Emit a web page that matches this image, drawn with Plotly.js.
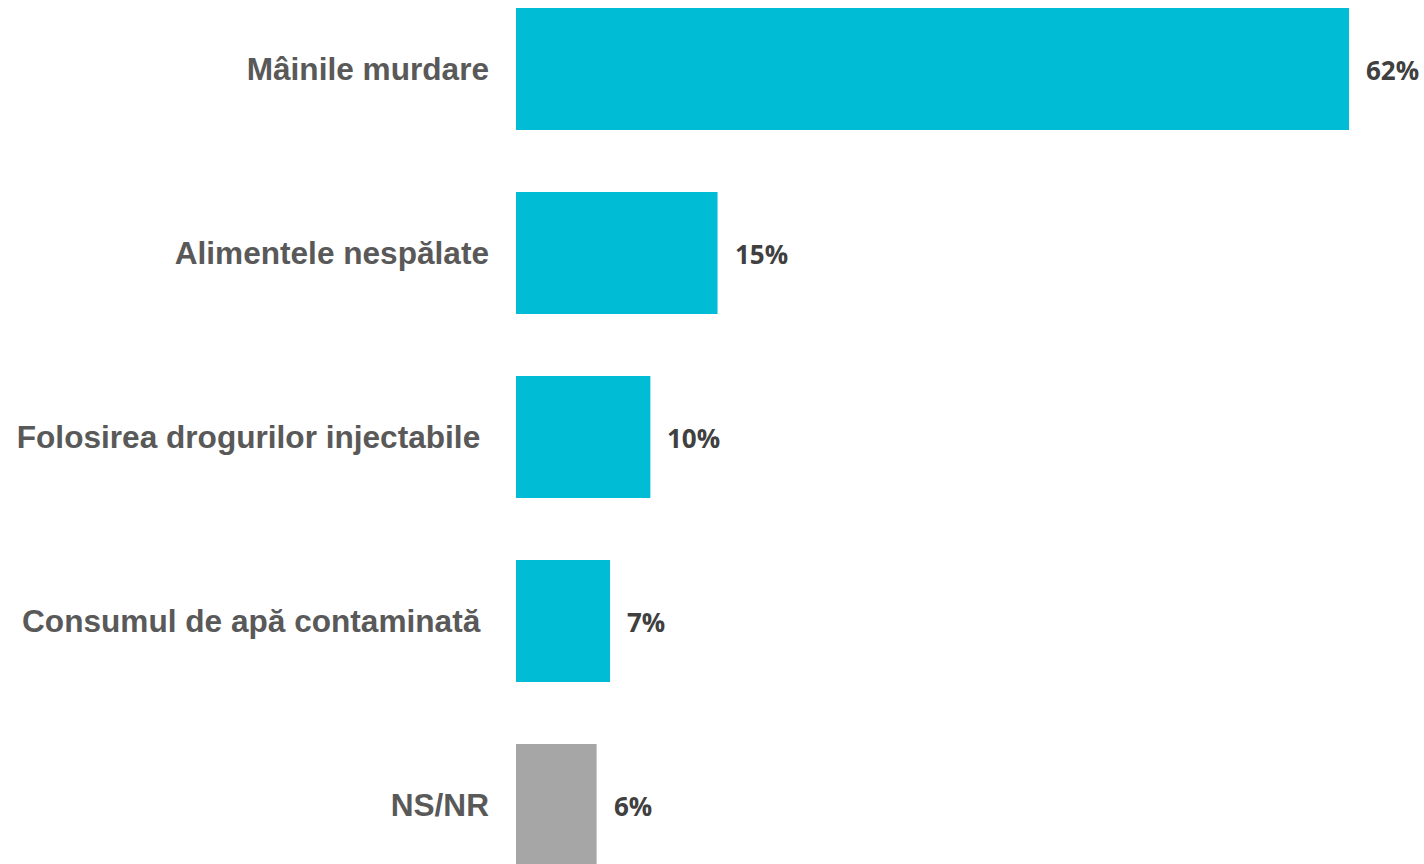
<!DOCTYPE html>
<html>
<head>
<meta charset="utf-8">
<script src="https://cdn.plot.ly/plotly-3.0.1.min.js"></script>
<style>html,body{margin:0;padding:0;background:#fff;}#chart{width:1424px;height:864px;}</style>
</head>
<body>
<div id="chart"></div>
<script>
const categories = ["Mâinile murdare", "Alimentele nespălate", "Folosirea drogurilor injectabile\u00a0", "Consumul de apă contaminată\u00a0", "NS/NR"];
const values = [62, 15, 10, 7, 6];
const valueLabels = ["62%", "15%", "10%", "7%", "6%"];
const barColors = ["#00BCD5", "#00BCD5", "#00BCD5", "#00BCD5", "#A6A6A6"];

const trace = {
  type: "bar",
  orientation: "h",
  y: categories,
  x: values,
  width: 0.663,
  marker: {color: barColors, line: {width: 0}},
  hoverinfo: "skip"
};

const annotations = values.map((v, i) => ({
  x: v, y: categories[i], xref: "x", yref: "y",
  text: valueLabels[i], showarrow: false,
  xanchor: "left", yanchor: "middle", xshift: 15, yshift: -1,
  font: {family: "Open Sans", size: 26, color: "#404040", weight: 700}
}));

const layout = {
  width: 1424, height: 864,
  margin: {l: 516, r: 0, t: 0, b: 0, pad: 0},
  paper_bgcolor: "#fff", plot_bgcolor: "#fff",
  showlegend: false,
  xaxis: {range: [0, 67.58], visible: false, fixedrange: true},
  yaxis: {
    type: "category", categoryorder: "array", categoryarray: categories,
    range: [4.321, -0.375], autorange: false,
    showgrid: false, zeroline: false, showline: false, ticks: "",
    ticklabelstandoff: 26,
    tickfont: {family: "Liberation Sans, Arial", size: 31.6, color: "#595959", weight: 700}
  },
  annotations: annotations
};

Plotly.newPlot("chart", [trace], layout, {staticPlot: true, displayModeBar: false});
</script>
</body>
</html>
